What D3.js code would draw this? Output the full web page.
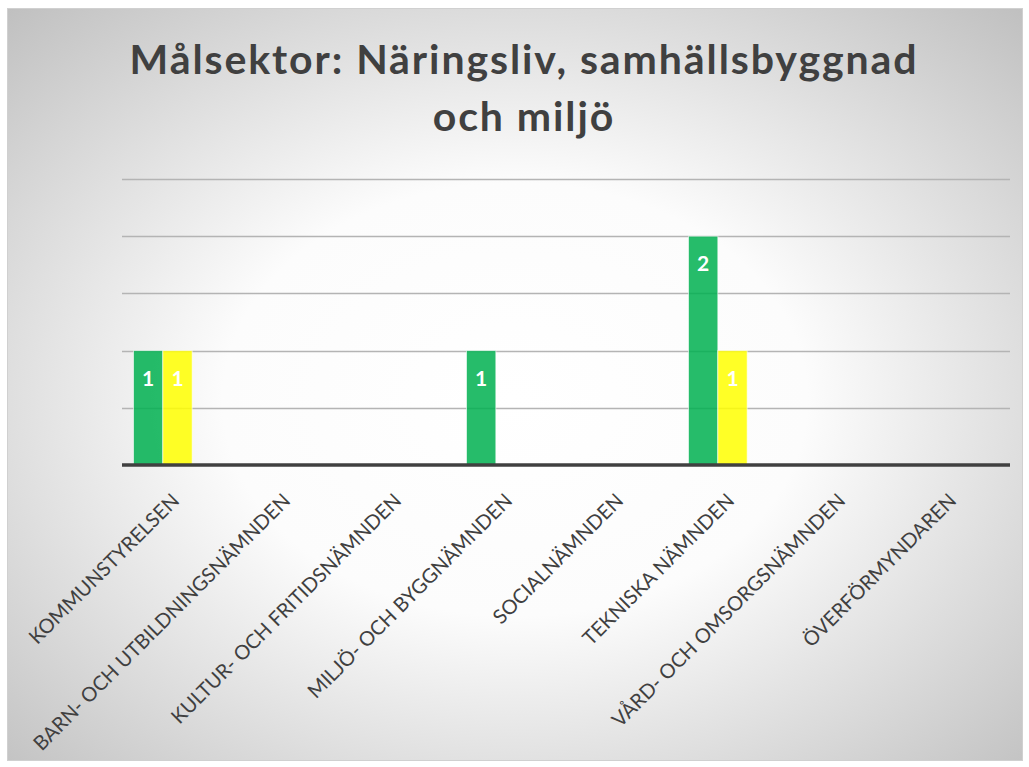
<!DOCTYPE html>
<html>
<head>
<meta charset="utf-8">
<script src="https://cdn.jsdelivr.net/npm/d3@7"></script>
<style>
  html, body { margin: 0; padding: 0; background: #fff; }
  svg { display: block; }
</style>
</head>
<body>
<svg id="chart" width="1029" height="767"></svg>
<script>
// Chart data
var categories = [
  'KOMMUNSTYRELSEN',
  'BARN- OCH UTBILDNINGSNÄMNDEN',
  'KULTUR- OCH FRITIDSNÄMNDEN',
  'MILJÖ- OCH BYGGNÄMNDEN',
  'SOCIALNÄMNDEN',
  'TEKNISKA NÄMNDEN',
  'VÅRD- OCH OMSORGSNÄMNDEN',
  'ÖVERFÖRMYNDAREN'
];
var seriesNames = ['Grön', 'Gul', 'Röd'];
var greenValues = [1, 0, 0, 1, 0, 2, 0, 0];
var yellowValues = [1, 0, 0, 0, 0, 1, 0, 0];
var redValues = [0, 0, 0, 0, 0, 0, 0, 0];
var seriesColors = ['#00b050', '#ffff00', '#ff0000'];
var gridTicks = [0.5, 1, 1.5, 2, 2.5];
var titleLines = ['Målsektor: Näringsliv, samhällsbyggnad', 'och miljö'];

var FONT = 'Lato, "Open Sans", sans-serif';
var svg = d3.select('#chart');

// Background: radial gradient, white in the middle, grey at the edges
var defs = svg.append('defs');
var grad = defs.append('radialGradient')
  .attr('id', 'bg')
  .attr('cx', '50%').attr('cy', '52%').attr('r', '72%');
grad.append('stop').attr('offset', '0%').attr('stop-color', '#ffffff');
grad.append('stop').attr('offset', '40%').attr('stop-color', '#fcfcfc');
grad.append('stop').attr('offset', '100%').attr('stop-color', '#c0c0c0');

svg.append('rect')
  .attr('x', 7.5).attr('y', 8.5)
  .attr('width', 1015).attr('height', 752)
  .attr('fill', 'url(#bg)')
  .attr('stroke', '#d0d0d0')
  .attr('stroke-width', 1);

// Title, stretched a little so it is as wide as the original's Calibri
var title = svg.append('text')
  .attr('text-anchor', 'middle')
  .attr('font-family', FONT)
  .attr('font-weight', 'bold')
  .attr('font-size', 41)
  .attr('fill', '#404040');
title.selectAll('tspan')
  .data(titleLines)
  .enter()
  .append('tspan')
  .attr('x', 524)
  .attr('y', function(d, i) { return 74 + i * 57; })
  .text(String);

var first = title.select('tspan').node();
var natural = first.getComputedTextLength();
var spacing = (787 - natural) / (titleLines[0].length - 1);
title.attr('letter-spacing', spacing);

// Plot area
var plot = {left: 122, right: 1010, top: 179, bottom: 465};

var x0 = d3.scaleBand()
  .domain(categories)
  .range([plot.left, plot.right])
  .paddingInner(0.207)
  .paddingOuter(0.1035);

var x1 = d3.scaleBand()
  .domain(seriesNames)
  .range([0, x0.bandwidth()]);

var y = d3.scaleLinear()
  .domain([0, 2.5])
  .range([plot.bottom, plot.top]);

// Gridlines
svg.append('g')
  .selectAll('line')
  .data(gridTicks)
  .enter()
  .append('line')
  .attr('x1', plot.left)
  .attr('x2', plot.right)
  .attr('y1', function(d) { return Math.round(y(d)) + 0.5; })
  .attr('y2', function(d) { return Math.round(y(d)) + 0.5; })
  .attr('stroke', '#b4b4b4')
  .attr('stroke-width', 1.5);

// Bars
var series = [greenValues, yellowValues, redValues];
var rows = [];
series.forEach(function(vals, s) {
  vals.forEach(function(v, i) {
    rows.push({cat: categories[i], name: seriesNames[s], value: v, color: seriesColors[s]});
  });
});
var bars = rows.filter(function(d) { return d.value > 0; });

svg.append('g')
  .selectAll('rect')
  .data(bars)
  .enter()
  .append('rect')
  .attr('x', function(d) { return x0(d.cat) + x1(d.name); })
  .attr('y', function(d) { return y(d.value); })
  .attr('width', x1.bandwidth())
  .attr('height', function(d) { return y(0) - y(d.value); })
  .attr('fill', function(d) { return d.color; })
  .attr('fill-opacity', 0.85)
  .attr('stroke', '#ffffff')
  .attr('stroke-opacity', 0.6)
  .attr('stroke-width', 1);

// Data labels
svg.append('g')
  .selectAll('text')
  .data(bars)
  .enter()
  .append('text')
  .attr('x', function(d) { return x0(d.cat) + x1(d.name) + x1.bandwidth() / 2; })
  .attr('y', function(d) { return y(d.value) + 35; })
  .attr('text-anchor', 'middle')
  .attr('font-family', FONT)
  .attr('font-weight', 'bold')
  .attr('font-size', 21)
  .attr('fill', '#ffffff')
  .text(function(d) { return d.value; });

// X axis
var xAxis = d3.axisBottom(x0).tickSize(0).tickPadding(0);
var gx = svg.append('g')
  .attr('transform', 'translate(0,' + plot.bottom + ')')
  .call(xAxis);
gx.select('.domain')
  .attr('d', 'M' + plot.left + ',0H' + plot.right)
  .attr('stroke', '#404040')
  .attr('stroke-width', 3.5);
gx.selectAll('.tick text')
  .attr('font-family', FONT)
  .attr('font-size', 20)
  .attr('fill', '#404040')
  .attr('text-anchor', 'end')
  .attr('dy', 0)
  .attr('transform', 'translate(3,37) rotate(-45)');
</script>
</body>
</html>
